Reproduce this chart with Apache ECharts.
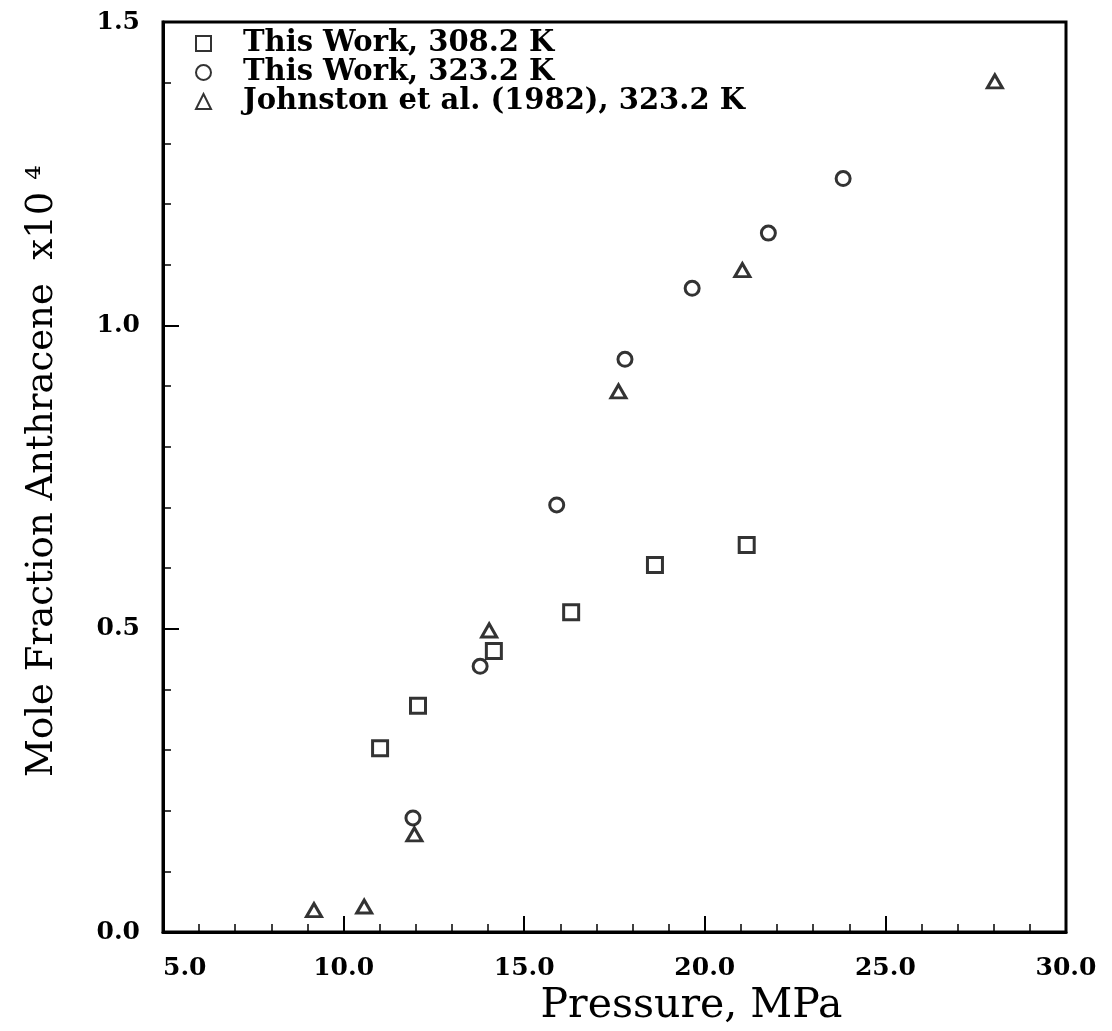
<!DOCTYPE html>
<html>
<head>
<meta charset="utf-8">
<script src="https://cdn.jsdelivr.net/npm/echarts@6/dist/echarts.min.js"></script>
<style>
  html, body { margin: 0; padding: 0; background: #fff; }
  #chart { width: 1112px; height: 1031px; }
</style>
</head>
<body>
<div id="chart"></div>
<script>
(function() {
  // pressure (MPa) and mole fraction x10^4
  var p308 = [11.01, 12.06, 14.16, 16.30, 18.62, 21.16];
  var y308 = [0.303, 0.373, 0.463, 0.527, 0.605, 0.638];

  var p323 = [11.92, 13.78, 15.90, 17.79, 19.65, 21.76, 23.83];
  var y323 = [0.188, 0.438, 0.704, 0.944, 1.061, 1.152, 1.242];

  var pJoh = [9.18, 10.57, 11.96, 14.03, 17.61, 21.04, 28.03];
  var yJoh = [0.036, 0.042, 0.161, 0.497, 0.891, 1.091, 1.402];

  var seriesNames = ['This Work, 308.2 K', 'This Work, 323.2 K', 'Johnston et al. (1982), 323.2 K'];

  function zip(xs, ys) {
    return xs.map(function(x, i) { return [x, ys[i]]; });
  }

  var serif = '"DejaVu Serif", "Liberation Serif", serif';
  var ink = '#000';
  var markStyle = { color: '#fff', borderColor: ink, borderWidth: 3 };

  var chart = echarts.init(document.getElementById('chart'), null, { renderer: 'canvas' });

  chart.setOption({
    backgroundColor: '#fff',
    animation: false,
    grid: {
      left: 163, right: 46, top: 22, bottom: 99,
      show: true, borderColor: ink, borderWidth: 3,
      containLabel: false, outerBoundsMode: 'none'
    },
    legend: {
      orient: 'vertical',
      left: 190, top: 24,
      itemWidth: 15, itemHeight: 15, itemGap: 0,
      data: seriesNames,
      textStyle: {
        fontFamily: serif, fontWeight: 'bold', fontSize: 29, color: ink,
        lineHeight: 29, padding: [0, 0, 0, 27]
      }
    },
    xAxis: {
      type: 'value',
      min: 5, max: 30, interval: 5,
      name: 'Pressure, MPa',
      nameLocation: 'middle',
      nameGap: 49,
      nameTextStyle: { fontFamily: serif, fontSize: 41, color: ink, padding: [0, 0, 0, 154] },
      axisLine: { lineStyle: { color: ink, width: 3 } },
      axisTick: { inside: true, length: 16, lineStyle: { color: ink, width: 2 } },
      minorTick: { show: true, splitNumber: 5, length: 8, lineStyle: { color: ink, width: 1.5 } },
      splitLine: { show: false },
      axisLabel: {
        margin: 24, color: ink, fontFamily: serif, fontWeight: 'bold', fontSize: 25,
        alignMinLabel: 'left',
        formatter: function(v) { return v.toFixed(1); }
      }
    },
    yAxis: {
      type: 'value',
      min: 0, max: 1.5, interval: 0.5,
      name: 'Mole Fraction Anthracene  x10 \u2074',
      nameLocation: 'middle',
      nameRotate: 90,
      nameGap: 102,
      nameTextStyle: { fontFamily: serif, fontSize: 37, color: ink, padding: [0, 0, 0, 12] },
      axisLine: { lineStyle: { color: ink, width: 3 } },
      axisTick: { inside: true, length: 16, lineStyle: { color: ink, width: 2 } },
      minorTick: { show: true, splitNumber: 5, length: 8, lineStyle: { color: ink, width: 1.5 } },
      splitLine: { show: false },
      axisLabel: {
        margin: 23, color: ink, fontFamily: serif, fontWeight: 'bold', fontSize: 25,
        formatter: function(v) { return v.toFixed(1); }
      }
    },
    series: [
      {
        name: seriesNames[0], type: 'scatter', symbol: 'rect', symbolSize: 15,
        itemStyle: markStyle, data: zip(p308, y308)
      },
      {
        name: seriesNames[1], type: 'scatter', symbol: 'circle', symbolSize: 14,
        itemStyle: markStyle, data: zip(p323, y323)
      },
      {
        name: seriesNames[2], type: 'scatter', symbol: 'triangle', symbolSize: [15, 13],
        itemStyle: markStyle, data: zip(pJoh, yJoh)
      }
    ]
  });
  window.addEventListener('resize', function() { chart.resize(); });
})();
</script>
</body>
</html>
